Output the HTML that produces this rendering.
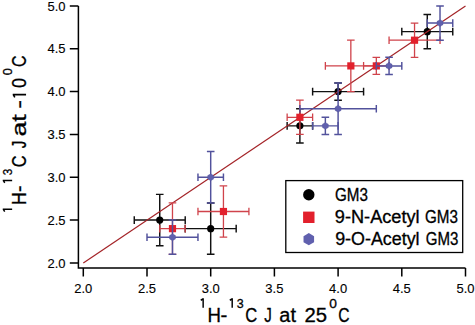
<!DOCTYPE html>
<html><head><meta charset="utf-8"><style>
html,body{margin:0;padding:0;background:#fff;width:475px;height:325px;overflow:hidden}
svg{display:block;font-family:"Liberation Sans",sans-serif}
text{stroke:#000;stroke-width:0.3px}
text.t{stroke-width:0.12px}
</style></head><body>
<svg width="475" height="325" viewBox="0 0 475 325" font-family="Liberation Sans, sans-serif" fill="#000">
<rect width="475" height="325" fill="#fff"/>
<path d="M78.4 5.95V268.1H465.50" stroke="#000" stroke-width="1.5" fill="none"/>
<path d="M69.80 262.90H78.4M83.30 268.1V276.50M69.80 220.07H78.4M147.00 268.1V276.50M69.80 177.25H78.4M210.70 268.1V276.50M69.80 134.42H78.4M274.40 268.1V276.50M69.80 91.60H78.4M338.10 268.1V276.50M69.80 48.77H78.4M401.80 268.1V276.50M69.80 5.95H78.4M465.50 268.1V276.50" stroke="#000" stroke-width="1.5" fill="none"/>
<text x="83.30" y="292.9" text-anchor="middle" font-size="13" class="t">2.0</text>
<text x="65.6" y="267.60" text-anchor="end" font-size="13" class="t">2.0</text>
<text x="147.00" y="292.9" text-anchor="middle" font-size="13" class="t">2.5</text>
<text x="65.6" y="224.77" text-anchor="end" font-size="13" class="t">2.5</text>
<text x="210.70" y="292.9" text-anchor="middle" font-size="13" class="t">3.0</text>
<text x="65.6" y="181.95" text-anchor="end" font-size="13" class="t">3.0</text>
<text x="274.40" y="292.9" text-anchor="middle" font-size="13" class="t">3.5</text>
<text x="65.6" y="139.12" text-anchor="end" font-size="13" class="t">3.5</text>
<text x="338.10" y="292.9" text-anchor="middle" font-size="13" class="t">4.0</text>
<text x="65.6" y="96.30" text-anchor="end" font-size="13" class="t">4.0</text>
<text x="401.80" y="292.9" text-anchor="middle" font-size="13" class="t">4.5</text>
<text x="65.6" y="53.47" text-anchor="end" font-size="13" class="t">4.5</text>
<text x="465.50" y="292.9" text-anchor="middle" font-size="13" class="t">5.0</text>
<text x="65.6" y="10.65" text-anchor="end" font-size="13" class="t">5.0</text>
<path d="M134.26 220.07H185.22M159.74 194.38V245.77M134.26 216.27V223.88M185.22 216.27V223.88M155.94 194.38H163.54M155.94 245.77H163.54" stroke="#111" stroke-width="1.45" fill="none"/>
<path d="M185.22 228.64H236.18M210.70 202.94V254.33M185.22 224.84V232.44M236.18 224.84V232.44M206.90 202.94H214.50M206.90 254.33H214.50" stroke="#111" stroke-width="1.45" fill="none"/>
<path d="M287.14 125.86H312.62M299.88 108.73V142.99M287.14 122.06V129.66M312.62 122.06V129.66M296.08 108.73H303.68M296.08 142.99H303.68" stroke="#111" stroke-width="1.45" fill="none"/>
<path d="M312.62 91.60H363.58M338.10 83.03V100.16M312.62 87.80V95.40M363.58 87.80V95.40M334.30 83.03H341.90M334.30 100.16H341.90" stroke="#111" stroke-width="1.45" fill="none"/>
<path d="M401.80 31.64H452.76M427.28 14.51V48.77M401.80 27.84V35.44M452.76 27.84V35.44M423.48 14.51H431.08M423.48 48.77H431.08" stroke="#111" stroke-width="1.45" fill="none"/>
<circle cx="159.74" cy="220.07" r="3.6" fill="#000000"/>
<circle cx="210.70" cy="228.64" r="3.6" fill="#000000"/>
<circle cx="299.88" cy="125.86" r="3.6" fill="#000000"/>
<circle cx="338.10" cy="91.60" r="3.6" fill="#000000"/>
<circle cx="427.28" cy="31.64" r="3.6" fill="#000000"/>
<path d="M83.30 262.90L465.50 5.95" stroke="#a42327" stroke-width="1.2"/>
<path d="M159.74 228.64H185.22M172.48 202.94V254.33M159.74 224.84V232.44M185.22 224.84V232.44M168.68 202.94H176.28M168.68 254.33H176.28" stroke="#d0434b" stroke-width="1.3" fill="none"/>
<path d="M197.96 211.51H248.92M223.44 185.81V237.20M197.96 207.71V215.31M248.92 207.71V215.31M219.64 185.81H227.24M219.64 237.20H227.24" stroke="#d0434b" stroke-width="1.3" fill="none"/>
<path d="M287.14 117.29H312.62M299.88 100.16V134.42M287.14 113.49V121.09M312.62 113.49V121.09M296.08 100.16H303.68M296.08 134.42H303.68" stroke="#d0434b" stroke-width="1.3" fill="none"/>
<path d="M325.36 65.90H376.32M350.84 40.21V91.60M325.36 62.10V69.70M376.32 62.10V69.70M347.04 40.21H354.64M347.04 91.60H354.64" stroke="#d0434b" stroke-width="1.3" fill="none"/>
<path d="M363.58 65.90H389.06M376.32 57.34V74.47M363.58 62.10V69.70M389.06 62.10V69.70M372.52 57.34H380.12M372.52 74.47H380.12" stroke="#d0434b" stroke-width="1.3" fill="none"/>
<path d="M389.06 40.21H440.02M414.54 23.08V57.34M389.06 36.41V44.01M440.02 36.41V44.01M410.74 23.08H418.34M410.74 57.34H418.34" stroke="#d0434b" stroke-width="1.3" fill="none"/>
<rect x="168.88" y="225.04" width="7.2" height="7.2" fill="#e2202c"/>
<rect x="219.84" y="207.91" width="7.2" height="7.2" fill="#e2202c"/>
<rect x="296.28" y="113.69" width="7.2" height="7.2" fill="#e2202c"/>
<rect x="347.24" y="62.30" width="7.2" height="7.2" fill="#e2202c"/>
<rect x="372.72" y="62.30" width="7.2" height="7.2" fill="#e2202c"/>
<rect x="410.94" y="36.61" width="7.2" height="7.2" fill="#e2202c"/>
<path d="M147.00 237.20H197.96M172.48 220.07V254.34M147.00 233.40V241.00M197.96 233.40V241.00M168.68 220.07H176.28M168.68 254.34H176.28" stroke="#52529c" stroke-width="1.45" fill="none"/>
<path d="M197.96 177.25H223.44M210.70 151.55V202.94M197.96 173.45V181.05M223.44 173.45V181.05M206.90 151.55H214.50M206.90 202.94H214.50" stroke="#52529c" stroke-width="1.45" fill="none"/>
<path d="M312.62 125.86H338.10M325.36 117.29V134.42M312.62 122.06V129.66M338.10 122.06V129.66M321.56 117.29H329.16M321.56 134.42H329.16" stroke="#52529c" stroke-width="1.45" fill="none"/>
<path d="M299.88 108.73H376.32M338.10 83.03V134.42M299.88 104.93V112.53M376.32 104.93V112.53M334.30 83.03H341.90M334.30 134.42H341.90" stroke="#52529c" stroke-width="1.45" fill="none"/>
<path d="M376.32 65.90H401.80M389.06 57.34V74.47M376.32 62.10V69.70M401.80 62.10V69.70M385.26 57.34H392.86M385.26 74.47H392.86" stroke="#52529c" stroke-width="1.45" fill="none"/>
<path d="M427.28 23.08H452.76M440.02 5.95V40.21M427.28 19.28V26.88M452.76 19.28V26.88M436.22 5.95H443.82M436.22 40.21H443.82" stroke="#52529c" stroke-width="1.45" fill="none"/>
<polygon points="175.47,238.93 172.48,240.65 169.49,238.93 169.49,235.48 172.48,233.75 175.47,235.48" fill="#6060ae" stroke="#4a4a92" stroke-width="0.3"/>
<polygon points="213.69,178.97 210.70,180.70 207.71,178.97 207.71,175.52 210.70,173.80 213.69,175.52" fill="#6060ae" stroke="#4a4a92" stroke-width="0.3"/>
<polygon points="328.35,127.58 325.36,129.31 322.37,127.58 322.37,124.13 325.36,122.41 328.35,124.13" fill="#6060ae" stroke="#4a4a92" stroke-width="0.3"/>
<polygon points="341.09,110.45 338.10,112.18 335.11,110.45 335.11,107.00 338.10,105.28 341.09,107.00" fill="#6060ae" stroke="#4a4a92" stroke-width="0.3"/>
<polygon points="392.05,67.63 389.06,69.35 386.07,67.63 386.07,64.18 389.06,62.45 392.05,64.18" fill="#6060ae" stroke="#4a4a92" stroke-width="0.3"/>
<polygon points="443.01,24.80 440.02,26.53 437.03,24.80 437.03,21.35 440.02,19.63 443.01,21.35" fill="#6060ae" stroke="#4a4a92" stroke-width="0.3"/>
<rect x="285.8" y="180.6" width="176.9" height="71.9" fill="#fff" stroke="#000" stroke-width="1.3"/>
<circle cx="308.8" cy="194.80" r="5.7" fill="#000000"/>
<text x="335.04" y="200.7" font-size="17.5" textLength="32.93" lengthAdjust="spacingAndGlyphs">GM3</text>
<rect x="303.10" y="211.60" width="11.4" height="11.4" fill="#e2202c"/>
<text x="334.85" y="223.2" font-size="17.5" textLength="84.77" lengthAdjust="spacingAndGlyphs">9-N-Acetyl</text>
<text x="425.04" y="223.2" font-size="17.5" textLength="32.93" lengthAdjust="spacingAndGlyphs">GM3</text>
<polygon points="314.08,242.25 308.80,245.30 303.52,242.25 303.52,236.15 308.80,233.10 314.08,236.15" fill="#6060ae"/>
<text x="335.16" y="245.1" font-size="17.5" textLength="84.43" lengthAdjust="spacingAndGlyphs">9-O-Acetyl</text>
<text x="425.84" y="245.1" font-size="17.5" textLength="32.62" lengthAdjust="spacingAndGlyphs">GM3</text>
<g transform="translate(0,322.2)"><path d="M203.15 -23.90V-14.50M203.35 -23.45l-2.6 1.5" stroke="#000" stroke-width="1.45" fill="none"/>
<text x="207.47" y="0" font-size="19.5" textLength="13.45" lengthAdjust="spacingAndGlyphs">H</text>
<text x="220.49" y="0" font-size="19.5" textLength="6.82" lengthAdjust="spacingAndGlyphs">-</text>
<path d="M232.20 -23.90V-14.50M232.40 -23.45l-2.6 1.5" stroke="#000" stroke-width="1.45" fill="none"/>
<text x="236.63" y="-14.5" font-size="13.5" textLength="6.92" lengthAdjust="spacingAndGlyphs">3</text>
<text x="245.26" y="0" font-size="19.5" textLength="11.97" lengthAdjust="spacingAndGlyphs">C</text>
<text x="264.16" y="0" font-size="19.5" textLength="7.56" lengthAdjust="spacingAndGlyphs">J</text>
<text x="279.35" y="0" font-size="19.5" textLength="16.59" lengthAdjust="spacingAndGlyphs">at</text>
<text x="304.48" y="0" font-size="19.5" textLength="22.57" lengthAdjust="spacingAndGlyphs">25</text>
<text x="329.16" y="-14.5" font-size="13.5" textLength="7.68" lengthAdjust="spacingAndGlyphs">0</text>
<text x="338.21" y="0" font-size="19.5" textLength="11.29" lengthAdjust="spacingAndGlyphs">C</text></g>
<g transform="translate(26.05,0) rotate(-90)"><path d="M-209.30 -23.30V-13.90M-209.10 -22.85l-2.6 1.5" stroke="#000" stroke-width="1.45" fill="none"/>
<text x="-204.94" y="0" font-size="19.5" textLength="12.67" lengthAdjust="spacingAndGlyphs">H</text>
<text x="-191.97" y="0" font-size="19.5" textLength="6.55" lengthAdjust="spacingAndGlyphs">-</text>
<path d="M-180.40 -23.30V-13.90M-180.20 -22.85l-2.6 1.5" stroke="#000" stroke-width="1.45" fill="none"/>
<text x="-175.14" y="-13.9" font-size="13.5" textLength="6.45" lengthAdjust="spacingAndGlyphs">3</text>
<text x="-167.23" y="0" font-size="19.5" textLength="11.75" lengthAdjust="spacingAndGlyphs">C</text>
<text x="-148.34" y="0" font-size="19.5" textLength="7.56" lengthAdjust="spacingAndGlyphs">J</text>
<text x="-136.53" y="0" font-size="19.5" textLength="22.12" lengthAdjust="spacingAndGlyphs">at</text>
<text x="-108.76" y="0" font-size="19.5" textLength="8.73" lengthAdjust="spacingAndGlyphs">-</text>
<path d="M-94.60 -13.30V0.00M-94.40 -12.85l-3.0 1.6" stroke="#000" stroke-width="1.6" fill="none"/>
<text x="-87.90" y="0" font-size="19.5" textLength="10.01" lengthAdjust="spacingAndGlyphs">0</text>
<text x="-75.20" y="-13.9" font-size="13.5" textLength="7.10" lengthAdjust="spacingAndGlyphs">0</text>
<text x="-67.01" y="0" font-size="19.5" textLength="11.52" lengthAdjust="spacingAndGlyphs">C</text></g>
</svg>
</body></html>
